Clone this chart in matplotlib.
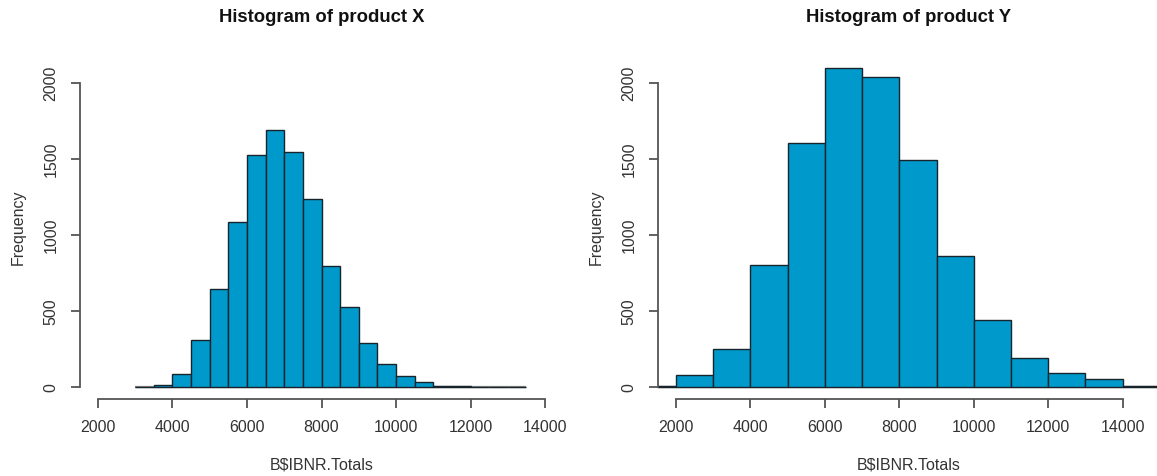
import matplotlib
matplotlib.use("Agg")
import matplotlib.pyplot as plt
import numpy as np

plt.rcParams['font.family'] = ['Liberation Sans', 'DejaVu Sans']

# ---- data ----
edges_x = [3000, 3500, 4000, 4500, 5000, 5500, 6000, 6500, 7000, 7500, 8000,
           8500, 9000, 9500, 10000, 10500, 11000, 11500, 12000, 12500, 13000, 13500]
counts_x = [0, 12, 85, 309, 645, 1086, 1526, 1689, 1544, 1235, 794,
            522, 285, 149, 72, 29, 6, 3, 0, 0, 0]

edges_y = [1000, 2000, 3000, 4000, 5000, 6000, 7000, 8000, 9000, 10000,
           11000, 12000, 13000, 14000, 15000]
counts_y = [5, 79, 250, 800, 1605, 2099, 2035, 1489, 862, 437, 189, 88, 51, 5]

xticks = [2000, 4000, 6000, 8000, 10000, 12000, 14000]
yticks = [0, 500, 1000, 1500, 2000]
titles = ["Histogram of product X", "Histogram of product Y"]
xlabel = "B$IBNR.Totals"
ylabel = "Frequency"

BAR = '#0099cc'
EDGE = '#17242c'
AX = '#555555'
TXT = '#333333'

W, H = 1157, 477
fig = plt.figure(figsize=(W / 100, H / 100), dpi=100)

def px_axes(x0, y0, x1, y1):
    return fig.add_axes([x0 / W, 1 - y1 / H, (x1 - x0) / W, (y1 - y0) / H])

panels = [
    dict(rect=(80, 71.5, 563, 400), xlim=(1520, 14480), edges=edges_x, counts=counts_x,
         title=titles[0], tx=322, ylab_x=18),
    dict(rect=(658, 71.5, 1164, 400), xlim=(1520, 15110), edges=edges_y, counts=counts_y,
         title=titles[1], tx=909, ylab_x=596),
]

YTOP = 2080
for p in panels:
    ax = px_axes(*p['rect'])
    e = np.array(p['edges'], dtype=float)
    c = np.array(p['counts'], dtype=float)
    ax.hlines(0, e[0], e[-1], color='#888888', lw=1.6, zorder=1)
    bars = ax.bar(e[:-1], c, width=np.diff(e), align='edge', color=BAR,
                  edgecolor=EDGE, linewidth=1.0, zorder=2)
    for b, h in zip(bars, c):
        if h > YTOP:
            b.set_clip_on(False)
    ax.set_xlim(*p['xlim'])
    ax.set_ylim(-80, YTOP)
    for s in ('top', 'right'):
        ax.spines[s].set_visible(False)
    ax.spines['left'].set_bounds(0, 2000)
    ax.spines['bottom'].set_bounds(2000, 14000)
    for s in ('left', 'bottom'):
        ax.spines[s].set_color(AX)
        ax.spines[s].set_linewidth(1.3)
    ax.set_xticks(xticks)
    ax.set_xticklabels([str(t) for t in xticks])
    ax.set_yticks(yticks)
    ax.set_yticklabels([str(t) for t in yticks], rotation=90, va='center')
    ax.tick_params(axis='both', length=6.5, width=1.3, color=AX, labelcolor=TXT,
                   labelsize=11.5)
    ax.tick_params(axis='x', pad=8)
    ax.tick_params(axis='y', pad=9)
    ax.patch.set_visible(False)
    fig.text(p['tx'] / W, 1 - 18 / H, p['title'], ha='center', va='center',
             fontsize=13.3, fontweight='bold', color='#111111')
    fig.text(p['tx'] / W, 1 - 465 / H, xlabel, ha='center', va='center',
             fontsize=11.5, color=TXT)
    fig.text(p['ylab_x'] / W, 1 - 227 / H, ylabel, ha='center', va='center',
             rotation=90, fontsize=11.5, color=TXT)

fig.savefig('out.png', dpi=100, facecolor='white')
